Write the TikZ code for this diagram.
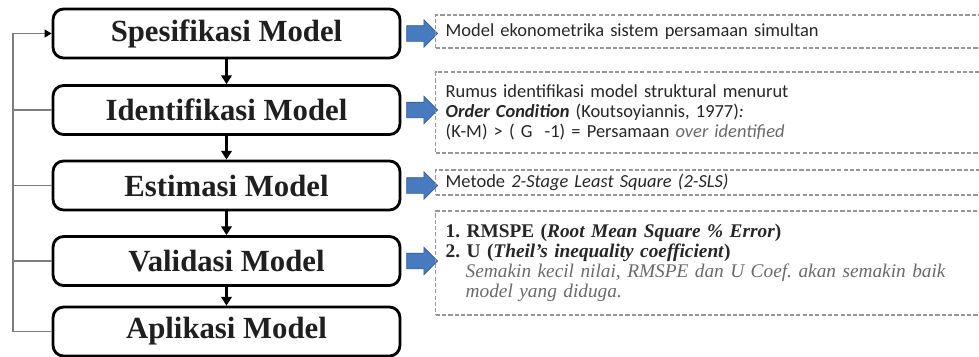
\documentclass[tikz,border=0pt]{standalone}
\usepackage{fontspec}
\setmainfont{Liberation Serif}
\newfontfamily\calibri{Carlito}
\usetikzlibrary{positioning,shapes.arrows,arrows.meta}
\frenchspacing

\definecolor{arrblue}{RGB}{72,122,192}
\definecolor{arrline}{RGB}{52,92,150}
\definecolor{notegray}{RGB}{150,150,150}
\definecolor{backgray}{RGB}{125,125,125}
\definecolor{softgray}{RGB}{105,105,105}

\tikzset{
    stage/.style={draw, line width=1.6pt, rounded corners=6pt,
        minimum width=6.94cm, minimum height=0.98cm, text=black!88,
        font=\bfseries\fontsize{17.5}{20}\selectfont},
    note/.style={draw=notegray, line width=0.8pt, dash pattern=on 2.4pt off 1.2pt,
        anchor=west, minimum width=11.4cm, text width=11cm, align=left,
        inner xsep=0.2cm, font=\calibri\fontsize{10.5}{11.4}\selectfont, text=black!85},
    blockarr/.style={single arrow, fill=arrblue, draw=arrline, line width=0.4pt,
        inner xsep=0pt, inner ysep=0.15cm, minimum height=0.62cm,
        single arrow head extend=0.12cm},
    flow/.style={line width=1.2pt, -{Triangle[length=5pt, width=6pt]}},
    fback/.style={backgray, line width=0.9pt}
}

\begin{document}
\begin{tikzpicture}[x=0.02cm, y=-0.02cm]
        \clip (0, 0) rectangle (979, 356);

        % stages of the model
        \node[stage] (spes) at (226.5, 33.5) {Spesifikasi Model};
        \node[stage] (iden) at (226.5, 110) {Identifikasi Model};
        \node[stage] (esti) at (226.5, 185.5) {Estimasi Model};
        \node[stage] (vali) at (226.5, 261) {Validasi Model};
        \node[stage] (apli) at (226.5, 331.5) {Aplikasi Model};

        \draw[flow] (spes) -- (iden);
        \draw[flow] (iden) -- (esti);
        \draw[flow] (esti) -- (vali);
        \draw[flow] (vali) -- (apli);

        % loop back
        \coordinate (back) at (13, 0);
        \draw[fback, -{Triangle[length=4pt, width=4.5pt, black]}] (apli.west)
            -| (back |- spes.west) -- (spes.west);
        \foreach \n in {iden, esti, vali}
            \draw[fback] (\n.west) -- (\n.west -| back);

        % blue arrows
        \node[blockarr, right=0.1cm of spes] (a1) {};
        \node[blockarr, right=0.1cm of iden] (a2) {};
        \node[blockarr, right=0.1cm of esti] (a3) {};
        \node[blockarr, right=0.1cm of vali] (a4) {};

        % notes
        \node[note, minimum height=0.66cm] (n1) at (435, 31.5)
            {Model ekonometrika sistem persamaan simultan};
        \node[note, minimum height=1.62cm] (n2) at (435, 112.5)
            {Rumus identifikasi model struktural menurut\\
            \textbf{\textit{Order Condition}} (Koutsoyiannis, 1977)\textit{:}\\
            (K-M) > ( G~~-1) = Persamaan {\color{softgray}\textit{over identified}}};
        \node[note, minimum height=0.5cm, inner ysep=1pt] (n3) at (435, 182.5)
            {Metode \textit{2-Stage Least Square (2-SLS)}};
        \node[note, minimum height=2.08cm, font=\fontsize{11}{11.4}\selectfont] (n4) at (435, 263)
            {\textbf{1. RMSPE (\textit{Root Mean Square \% Error})}\\
            \textbf{2. U (\textit{Theil's inequality coefficient})}\\
            \hspace*{0.4cm}{\color{softgray}\textit{Semakin kecil nilai, RMSPE dan U Coef. akan semakin baik}}\\
            \hspace*{0.4cm}{\color{softgray}\textit{model yang diduga.}}};

\end{tikzpicture}
\end{document}
